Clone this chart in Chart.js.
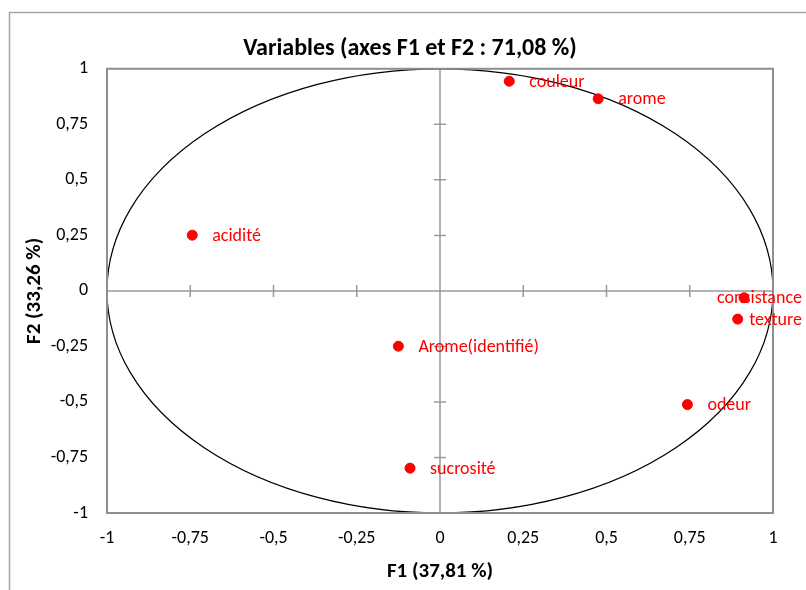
<!DOCTYPE html>
<html>
<head>
<meta charset="utf-8">
<script src="https://cdn.jsdelivr.net/npm/chart.js@4.4.0/dist/chart.umd.min.js"></script>
<style>
html, body { margin: 0; padding: 0; background: #fff; }
#wrap { width: 806px; height: 590px; }
</style>
</head>
<body>
<div id="wrap"><canvas id="chart" width="806" height="590"></canvas></div>
<script>
// variables et coordonnées sur F1 / F2
const variables = ['couleur', 'arome', 'acidité', 'consistance', 'texture', 'Arome(identifié)', 'odeur', 'sucrosité'];
const f1Values = [0.208, 0.475, -0.744, 0.913, 0.894, -0.125, 0.743, -0.090];
const f2Values = [0.944, 0.865, 0.251, -0.031, -0.127, -0.249, -0.512, -0.798];
const tickValues = [-1, -0.75, -0.5, -0.25, 0, 0.25, 0.5, 0.75, 1];
const tickLabels = ['-1', '-0,75', '-0,5', '-0,25', '0', '0,25', '0,5', '0,75', '1'];

const FONT = 'Carlito, Lato, sans-serif';

function fmtTick(v){
    const i = tickValues.findIndex(t => Math.abs(t - v) < 1e-9);
    return i >= 0 ? tickLabels[i] : '';
}

// cadre extérieur, cercle, axes à zéro et étiquettes
const decorPlugin = {
    id: 'decor',
    beforeDraw(chart){
        const ctx = chart.ctx;
        ctx.save();
        ctx.strokeStyle = '#a6a6a6';
        ctx.lineWidth = 1.5;
        ctx.strokeRect(9.5, 12.5, 820, 620);
        ctx.restore();
    },
    beforeDatasetsDraw(chart){
        const ctx = chart.ctx;
        const xs = chart.scales.x, ys = chart.scales.y;
        const a = chart.chartArea;
        const x0 = xs.getPixelForValue(0), y0 = ys.getPixelForValue(0);
        ctx.save();
        // axes passant par l'origine
        ctx.strokeStyle = '#9a9a9a';
        ctx.lineWidth = 1.5;
        ctx.beginPath();
        ctx.moveTo(a.left, y0); ctx.lineTo(a.right, y0);
        ctx.moveTo(x0, a.top); ctx.lineTo(x0, a.bottom);
        tickValues.forEach(v => {
            if(v === 0 || Math.abs(v) === 1) return;
            const px = xs.getPixelForValue(v);
            ctx.moveTo(px, y0 - 6); ctx.lineTo(px, y0 + 6);
            const py = ys.getPixelForValue(v);
            ctx.moveTo(x0 - 6, py); ctx.lineTo(x0 + 6, py);
        });
        ctx.stroke();
        // cercle des corrélations
        const rx = xs.getPixelForValue(1) - x0;
        const ry = y0 - ys.getPixelForValue(1);
        ctx.strokeStyle = '#000';
        ctx.lineWidth = 1.2;
        ctx.beginPath();
        ctx.ellipse(x0, y0, rx, ry, 0, 0, Math.PI * 2);
        ctx.stroke();
        // bordure de la zone de tracé
        ctx.strokeStyle = '#8e8e8e';
        ctx.lineWidth = 2;
        ctx.strokeRect(a.left, a.top, a.right - a.left, a.bottom - a.top);
        ctx.restore();
    },
    afterDatasetsDraw(chart){
        const ctx = chart.ctx;
        const meta = chart.getDatasetMeta(0);
        ctx.save();
        ctx.font = '18px ' + FONT;
        ctx.fillStyle = '#ff0000';
        ctx.textBaseline = 'middle';
        meta.data.forEach((pt, i) => {
            const txt = variables[i];
            const w = ctx.measureText(txt).width;
            let x = pt.x + 20;
            if(x + w > 802) x = 802 - w;
            ctx.fillText(txt, x, pt.y + 1);
        });
        ctx.restore();
    }
};

const points = f1Values.map((x, i) => ({ x: x, y: f2Values[i] }));

new Chart(document.getElementById('chart'), {
    type: 'scatter',
    data: {
        datasets: [{
            label: 'Variables',
            data: points,
            xAxisID: 'x',
            yAxisID: 'y',
            backgroundColor: '#ff0000',
            borderColor: '#ff0000',
            pointRadius: 5,
            pointHoverRadius: 5
        }]
    },
    options: {
        responsive: false,
        animation: false,
        devicePixelRatio: 1,
        layout: { padding: { left: 14, right: 0, top: 0, bottom: 0 } },
        plugins: {
            legend: { display: false },
            tooltip: { enabled: false },
            title: {
                display: true,
                text: 'Variables (axes F1 et F2 : 71,08 %)',
                color: '#000',
                font: { family: FONT, size: 24, weight: 'bold' },
                padding: { top: 35, bottom: 5 }
            }
        },
        scales: {
            x: {
                type: 'linear',
                min: -1, max: 1,
                grid: { display: false, drawTicks: false },
                border: { display: false },
                ticks: { stepSize: 0.25, padding: 15, color: '#000', font: { family: FONT, size: 18 }, callback: v => fmtTick(v), maxRotation: 0 },
                title: { display: true, text: 'F1 (37,81 %)', color: '#000', font: { family: FONT, size: 21, weight: 'bold' }, padding: { top: 0, bottom: 6 } },
                afterFit: s => { s.height = 77; }
            },
            y: {
                type: 'linear',
                min: -1, max: 1,
                grid: { display: false, drawTicks: false },
                border: { display: false },
                ticks: { stepSize: 0.25, padding: 19, color: '#000', font: { family: FONT, size: 18 }, callback: v => fmtTick(v) },
                title: { display: true, text: 'F2 (33,26 %)', color: '#000', font: { family: FONT, size: 21, weight: 'bold' }, padding: { top: 8, bottom: 0 } },
                afterFit: s => { s.width = 93; }
            },
            // marge droite vide
            yRight: {
                type: 'linear',
                position: 'right',
                min: -1, max: 1,
                grid: { display: false, drawTicks: false },
                border: { display: false },
                ticks: { display: false },
                afterFit: s => { s.width = 33; }
            }
        }
    },
    plugins: [decorPlugin]
});
</script>
</body>
</html>
